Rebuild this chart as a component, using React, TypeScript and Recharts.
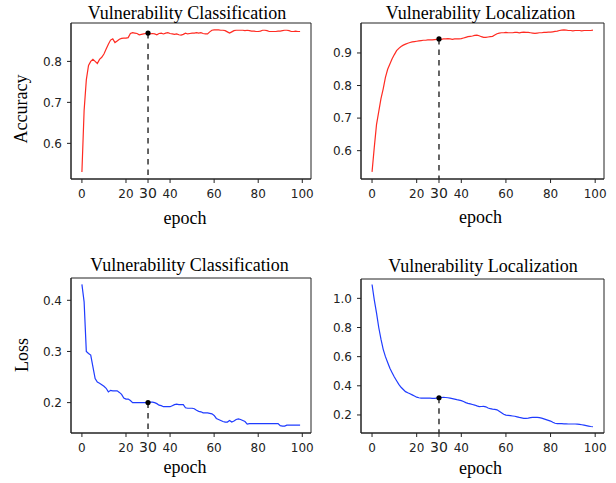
import React from "react";
import {
  LineChart,
  Line,
  XAxis,
  YAxis,
  ReferenceLine,
  ReferenceDot,
  ReferenceArea,
} from "recharts";

// ---------- data ----------
const xTicks = [0, 20, 30, 40, 60, 80, 100];
const markEpoch = 30;

const accClassification = [
  0.530, 0.680, 0.755, 0.790, 0.800, 0.805, 0.800, 0.795, 0.805, 0.810,
  0.818, 0.830, 0.842, 0.852, 0.855, 0.846, 0.850, 0.854, 0.856, 0.857,
  0.857, 0.858, 0.868, 0.870, 0.869, 0.868, 0.865, 0.866, 0.867, 0.868,
  0.869, 0.867, 0.868, 0.867, 0.865, 0.868, 0.869, 0.867, 0.869, 0.870,
  0.868, 0.867, 0.866, 0.867, 0.865, 0.864, 0.866, 0.869, 0.867, 0.868,
  0.869, 0.869, 0.870, 0.869, 0.870, 0.868, 0.867, 0.867, 0.872, 0.876,
  0.877, 0.877, 0.877, 0.876, 0.876, 0.875, 0.872, 0.869, 0.872, 0.875,
  0.876, 0.876, 0.876, 0.876, 0.875, 0.876, 0.875, 0.874, 0.874, 0.873,
  0.873, 0.874, 0.876, 0.876, 0.875, 0.873, 0.873, 0.873, 0.873, 0.874,
  0.874, 0.875, 0.876, 0.876, 0.875, 0.873, 0.873, 0.874, 0.873, 0.873,
];

const accLocalization = [
  0.535, 0.610, 0.680, 0.720, 0.760, 0.790, 0.825, 0.850, 0.866, 0.882,
  0.895, 0.907, 0.914, 0.920, 0.924, 0.927, 0.930, 0.932, 0.934, 0.935,
  0.936, 0.937, 0.938, 0.939, 0.939, 0.940, 0.940, 0.940, 0.941, 0.942,
  0.943, 0.942, 0.943, 0.943, 0.944, 0.943, 0.942, 0.943, 0.943, 0.943,
  0.944, 0.946, 0.948, 0.950, 0.951, 0.952, 0.954, 0.955, 0.953, 0.950,
  0.948, 0.948, 0.949, 0.950, 0.951, 0.955, 0.959, 0.961, 0.962, 0.962,
  0.963, 0.962, 0.962, 0.962, 0.963, 0.963, 0.962, 0.963, 0.964, 0.963,
  0.963, 0.962, 0.961, 0.960, 0.961, 0.962, 0.962, 0.963, 0.963, 0.964,
  0.964, 0.965, 0.966, 0.967, 0.969, 0.970, 0.971, 0.970, 0.969, 0.969,
  0.968, 0.969, 0.969, 0.969, 0.968, 0.969, 0.969, 0.969, 0.969, 0.970,
];

const lossClassification = [
  0.431, 0.397, 0.300, 0.296, 0.293, 0.270, 0.247, 0.240, 0.238, 0.235,
  0.232, 0.228, 0.221, 0.224, 0.223, 0.223, 0.223, 0.220, 0.216, 0.209,
  0.207, 0.207, 0.204, 0.200, 0.200, 0.200, 0.200, 0.200, 0.200, 0.200,
  0.200, 0.201, 0.201, 0.200, 0.198, 0.195, 0.194, 0.192, 0.192, 0.192,
  0.192, 0.194, 0.196, 0.197, 0.196, 0.196, 0.196, 0.190, 0.189, 0.189,
  0.189, 0.188, 0.185, 0.183, 0.182, 0.180, 0.180, 0.180, 0.179, 0.178,
  0.175, 0.169, 0.167, 0.165, 0.163, 0.162, 0.162, 0.165, 0.162, 0.164,
  0.167, 0.168, 0.167, 0.165, 0.163, 0.158, 0.159, 0.159, 0.159, 0.159,
  0.159, 0.159, 0.159, 0.159, 0.159, 0.159, 0.159, 0.159, 0.159, 0.159,
  0.155, 0.154, 0.154, 0.156, 0.156, 0.156, 0.156, 0.156, 0.156, 0.156,
];

const lossLocalization = [
  1.095, 0.990, 0.900, 0.800, 0.720, 0.650, 0.600, 0.560, 0.520, 0.490,
  0.460, 0.435, 0.410, 0.390, 0.375, 0.360, 0.352, 0.345, 0.338, 0.330,
  0.322, 0.318, 0.316, 0.315, 0.315, 0.316, 0.315, 0.314, 0.314, 0.316,
  0.318, 0.320, 0.321, 0.320, 0.318, 0.315, 0.312, 0.309, 0.305, 0.302,
  0.298, 0.292, 0.285, 0.280, 0.276, 0.272, 0.268, 0.262, 0.257, 0.258,
  0.259, 0.256, 0.248, 0.243, 0.240, 0.238, 0.235, 0.225, 0.215, 0.205,
  0.199, 0.197, 0.195, 0.193, 0.191, 0.187, 0.183, 0.180, 0.177, 0.176,
  0.178, 0.182, 0.183, 0.183, 0.183, 0.182, 0.178, 0.173, 0.168, 0.163,
  0.158, 0.150, 0.143, 0.141, 0.140, 0.140, 0.139, 0.139, 0.138, 0.138,
  0.138, 0.138, 0.137, 0.136, 0.133, 0.130, 0.127, 0.124, 0.121, 0.119,
];

const ticksAccCls = [0.6, 0.7, 0.8];
const ticksAccLoc = [0.6, 0.7, 0.8, 0.9];
const ticksLossCls = [0.2, 0.3, 0.4];
const ticksLossLoc = [0.2, 0.4, 0.6, 0.8, 1.0];

const titleCls = "Vulnerability Classification";
const titleLoc = "Vulnerability Localization";
const xLabel = "epoch";
const yLabelAcc = "Accuracy";
const yLabelLoss = "Loss";

// ---------- components ----------
const RED = "#ff2b22";
const BLUE = "#1f3cff";
const AXIS = "#222";
const TICK_FONT = "'DejaVu Sans', sans-serif";
const SERIF = "'Liberation Serif', 'Times New Roman', serif";
const X_DOMAIN: [number, number] = [-4.95, 103.95];

const XTick = (props: any) => {
  const { x, y, payload } = props;
  const big = payload.value === markEpoch;
  return (
    <text
      x={x}
      y={y + 9}
      textAnchor="middle"
      fontSize={big ? 14 : 12}
      fontFamily={TICK_FONT}
      fill="#222"
    >
      {payload.value}
    </text>
  );
};

type PanelProps = {
  values: number[];
  color: string;
  yDomain: [number, number];
  yTicks: number[];
  left: number;
  top: number;
  width: number;
  height: number;
  margin: { top: number; right: number; bottom: number; left: number };
};

const Panel = ({ values, color, yDomain, yTicks, left, top, width, height, margin }: PanelProps) => {
  const data = values.map((v, i) => ({ epoch: i, value: v }));
  const markVal = values[markEpoch];
  return (
    <div style={{ position: "absolute", left, top, width, height }}>
      <LineChart width={width} height={height} data={data} margin={margin}>
        <XAxis
          dataKey="epoch"
          type="number"
          domain={X_DOMAIN}
          allowDataOverflow
          ticks={xTicks}
          tick={<XTick />}
          tickSize={4}
          tickMargin={6}
          height={30}
          axisLine={{ stroke: AXIS, strokeWidth: 1 }}
          tickLine={{ stroke: AXIS }}
          interval={0}
        />
        <YAxis
          type="number"
          domain={yDomain}
          allowDataOverflow
          ticks={yTicks}
          tickFormatter={(v: number) => v.toFixed(1)}
          tickSize={4}
          tickMargin={5}
          width={40}
          axisLine={{ stroke: AXIS, strokeWidth: 1 }}
          tickLine={{ stroke: AXIS }}
          tick={{ fontSize: 12, fontFamily: TICK_FONT, fill: "#222" }}
          interval={0}
        />
        <ReferenceArea
          x1={X_DOMAIN[0]}
          x2={X_DOMAIN[1]}
          y1={yDomain[0]}
          y2={yDomain[1]}
          fill="none"
          fillOpacity={0}
          stroke={AXIS}
          strokeWidth={1}
          ifOverflow="visible"
        />
        <Line
          type="linear"
          dataKey="value"
          stroke={color}
          strokeWidth={1.2}
          dot={false}
          isAnimationActive={false}
        />
        <ReferenceLine
          segment={[
            { x: markEpoch, y: markVal },
            { x: markEpoch, y: yDomain[0] },
          ]}
          stroke="#333"
          strokeWidth={1.5}
          strokeDasharray="5.5 5"
        />
        <ReferenceDot x={markEpoch} y={markVal} r={2.6} fill="#000" stroke="none" />
      </LineChart>
    </div>
  );
};

export default function App() {
  return (
    <div
      style={{
        position: "absolute",
        left: 0,
        top: 0,
        width: 616,
        height: 483,
        background: "#fff",
        overflow: "hidden",
      }}
    >
      <Panel
        values={accClassification}
        color={RED}
        yDomain={[0.513, 0.8937]}
        yTicks={ticksAccCls}
        left={0}
        top={0}
        width={316}
        height={240}
        margin={{ top: 23, right: 5, bottom: 31, left: 31 }}
      />
      <Panel
        values={accLocalization}
        color={RED}
        yDomain={[0.513, 0.992]}
        yTicks={ticksAccLoc}
        left={316}
        top={0}
        width={300}
        height={240}
        margin={{ top: 23, right: 12, bottom: 31, left: 5 }}
      />
      <Panel
        values={lossClassification}
        color={BLUE}
        yDomain={[0.1406, 0.4436]}
        yTicks={ticksLossCls}
        left={0}
        top={240}
        width={316}
        height={243}
        margin={{ top: 38, right: 5, bottom: 20, left: 31 }}
      />
      <Panel
        values={lossLocalization}
        color={BLUE}
        yDomain={[0.0763, 1.1327]}
        yTicks={ticksLossLoc}
        left={316}
        top={240}
        width={300}
        height={243}
        margin={{ top: 39, right: 12, bottom: 20, left: 5 }}
      />
      <svg
        width={616}
        height={483}
        style={{ position: "absolute", left: 0, top: 0, pointerEvents: "none" }}
      >
        <g fontFamily={SERIF} fontSize={18} fill="#000" textAnchor="middle">
          <text x={187} y={18.5}>{titleCls}</text>
          <text x={480.5} y={18.5}>{titleLoc}</text>
          <text x={189.5} y={270.5}>{titleCls}</text>
          <text x={483} y={271.5}>{titleLoc}</text>
          <text x={185} y={224}>{xLabel}</text>
          <text x={480.5} y={223}>{xLabel}</text>
          <text x={185} y={473}>{xLabel}</text>
          <text x={480.5} y={474}>{xLabel}</text>
          <text transform="translate(27,109) rotate(-90)">{yLabelAcc}</text>
          <text transform="translate(28,355) rotate(-90)">{yLabelLoss}</text>
        </g>
      </svg>
    </div>
  );
}
